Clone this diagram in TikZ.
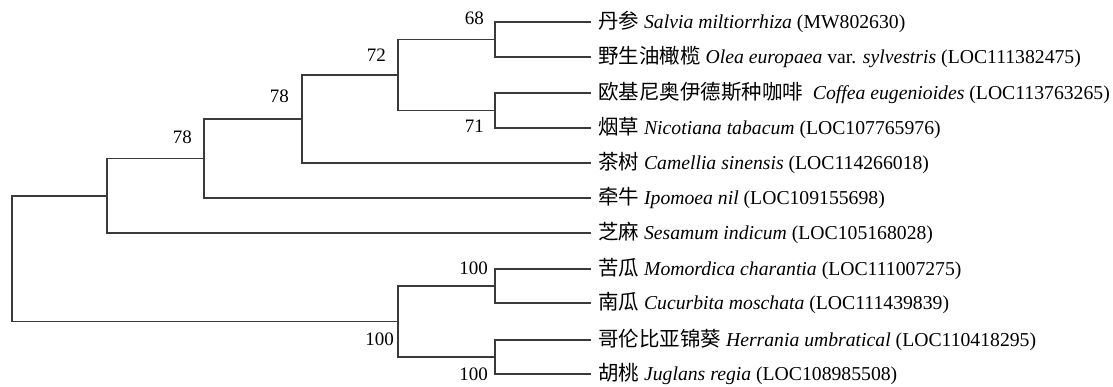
\documentclass[tikz,border=0pt]{standalone}
\usepackage{fontspec}
\setmainfont{Liberation Serif}
\newfontfamily\cjk[Scale=1.04]{Noto Sans CJK SC}
\definecolor{branch}{HTML}{3A3A3A}
\begin{document}
\begin{tikzpicture}[x=1pt,y=-1pt,
  branchline/.style={draw=branch,line width=1.3pt,line cap=rect},
  leaf/.style={anchor=base west,inner xsep=0pt,inner ysep=0pt,font=\fontsize{19.7}{22}\selectfont},
  boot/.style={anchor=base east,inner sep=0pt,font=\fontsize{19}{22}\selectfont}]
\useasboundingbox (0,0) rectangle (1113,387);
% leaf tips
\foreach \n/\y in {1/22,2/57,3/93,4/128,5/163,6/198,7/233,8/269,9/303,10/340,11/374}
  \coordinate (t\n) at (590,\y);
% internal nodes
\coordinate (E) at (495,39.5);
\coordinate (F) at (495,110.5);
\coordinate (D) at (398,75);
\coordinate (C) at (302,119);
\coordinate (B) at (204,158.5);
\coordinate (A) at (107,196);
\coordinate (H) at (495,286);
\coordinate (I) at (495,357);
\coordinate (G) at (398,321.5);
\coordinate (R) at (12,259);
% leaf labels
\node[leaf] (l1) at (598,28.5) {{\cjk 丹参} \textit{Salvia miltiorrhiza} (MW802630)};
\node[leaf] (l2) at (598,63.5) {{\cjk 野生油橄榄} \textit{Olea europaea} var. \textit{sylvestris} (LOC111382475)};
\node[leaf] (l3) at (598,99.5) {{\cjk 欧基尼奥伊德斯种咖啡}\ \ \textit{Coffea eugenioides} (LOC113763265)};
\node[leaf] (l4) at (598,134.5) {{\cjk 烟草} \textit{Nicotiana tabacum} (LOC107765976)};
\node[leaf] (l5) at (598,169.5) {{\cjk 茶树} \textit{Camellia sinensis} (LOC114266018)};
\node[leaf] (l6) at (598,204.5) {{\cjk 牵牛} \textit{Ipomoea nil} (LOC109155698)};
\node[leaf] (l7) at (598,239.5) {{\cjk 芝麻} \textit{Sesamum indicum} (LOC105168028)};
\node[leaf] (l8) at (598,275.5) {{\cjk 苦瓜} \textit{Momordica charantia} (LOC111007275)};
\node[leaf] (l9) at (598,309.5) {{\cjk 南瓜} \textit{Cucurbita moschata} (LOC111439839)};
\node[leaf] (l10) at (598,346.5) {{\cjk 哥伦比亚锦葵} \textit{Herrania umbratical} (LOC110418295)};
\node[leaf] (l11) at (598,380.5) {{\cjk 胡桃} \textit{Juglans regia} (LOC108985508)};
% bootstrap values
\node[boot] (b68) at (484,25) {68};
\node[boot] (b72) at (386,62) {72};
\node[boot] (b78a) at (289,103) {78};
\node[boot] (b78b) at (192,144) {78};
\node[boot] (b71) at (484,133) {71};
\node[boot] (b100a) at (488,274) {100};
\node[boot] (b100b) at (394,345) {100};
\node[boot] (b100c) at (488,380) {100};
% branches
\draw[branchline] (E) |- (t1) (E) |- (t2);
\draw[branchline] (F) |- (t3) (F) |- (t4);
\draw[branchline] (D) |- (E) (D) |- (F);
\draw[branchline] (C) |- (D) (C) |- (t5);
\draw[branchline] (B) |- (C) (B) |- (t6);
\draw[branchline] (A) |- (B) (A) |- (t7);
\draw[branchline] (H) |- (t8) (H) |- (t9);
\draw[branchline] (I) |- (t10) (I) |- (t11);
\draw[branchline] (G) |- (H) (G) |- (I);
\draw[branchline] (R) |- (A) (R) |- (G);
\end{tikzpicture}
\end{document}
